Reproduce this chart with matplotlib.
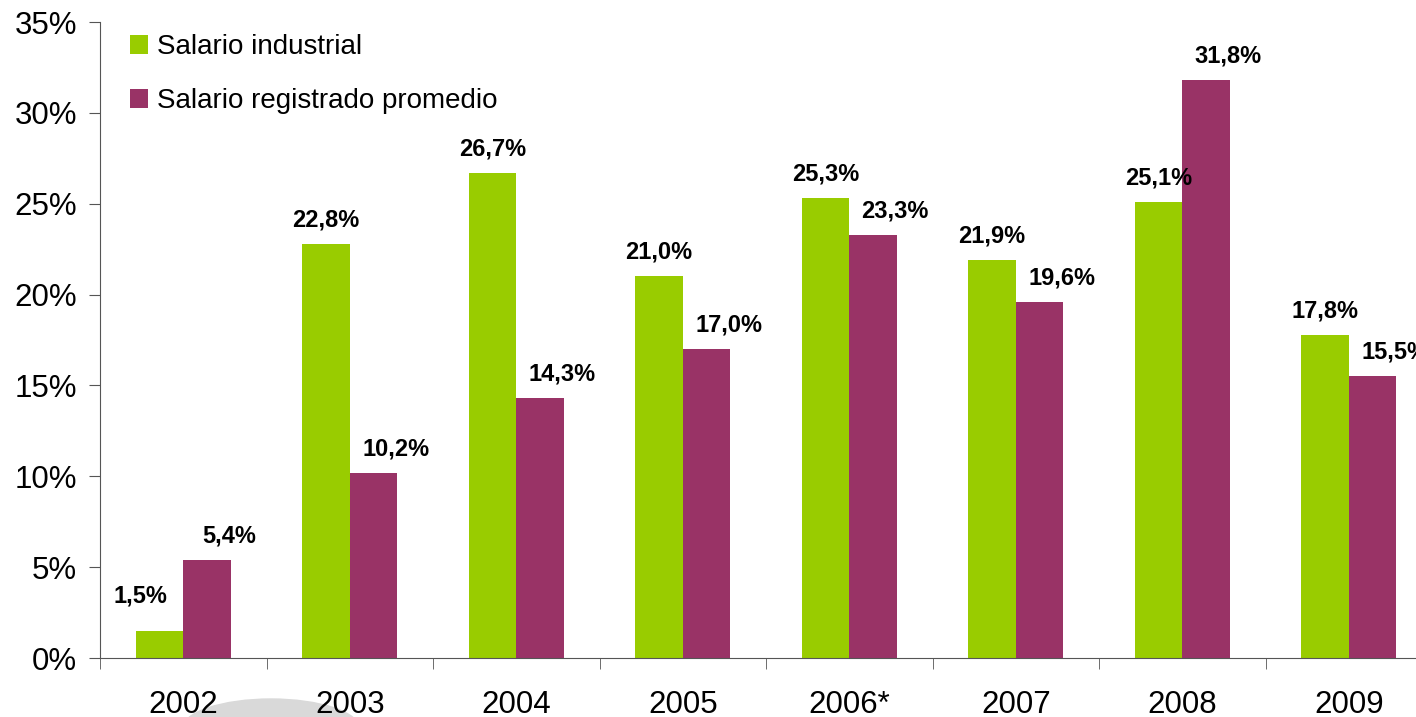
import numpy as np
import matplotlib
matplotlib.use("Agg")
import matplotlib.pyplot as plt
from matplotlib.patches import Ellipse

plt.rcParams['font.family'] = ['Liberation Sans', 'DejaVu Sans']

# Datos
anios = ["2002", "2003", "2004", "2005", "2006*", "2007", "2008", "2009"]
salario_industrial = [1.5, 22.8, 26.7, 21.0, 25.3, 21.9, 25.1, 17.8]
salario_registrado = [5.4, 10.2, 14.3, 17.0, 23.3, 19.6, 31.8, 15.5]

verde = "#99CC00"
morado = "#993366"

fig = plt.figure(figsize=(14.16, 7.17), dpi=100)
ax = fig.add_axes([100 / 1416, 59 / 717, 1332 / 1416, 636 / 717])

x = np.arange(len(anios))
w = 0.285
b1 = ax.bar(x - w / 2, salario_industrial, w, color=verde, label="Salario industrial", zorder=2)
b2 = ax.bar(x + w / 2, salario_registrado, w, color=morado, label="Salario registrado promedio", zorder=2)

def etiqueta(v):
    return f"{v:.1f}%".replace(".", ",")

for i, r in enumerate(b1):
    dx, dy = 0, 9
    if i == 0:
        dx, dy = -14, 17
    ax.annotate(etiqueta(salario_industrial[i]), (r.get_x() + r.get_width() / 2, r.get_height()),
                xytext=(dx, dy), textcoords="offset points", ha="center", va="bottom",
                fontsize=17, fontweight="bold")
for i, r in enumerate(b2):
    ax.annotate(etiqueta(salario_registrado[i]), (r.get_x() + r.get_width() / 2, r.get_height()),
                xytext=(16, 9), textcoords="offset points", ha="center", va="bottom",
                fontsize=17, fontweight="bold")

ax.set_xlim(-0.5, len(anios) - 0.5)
ax.set_ylim(0, 35)
ax.set_yticks(np.arange(0, 36, 5))
ax.set_yticklabels([f"{v}%" for v in range(0, 36, 5)], fontsize=22.5)
ax.set_xticks(x)
ax.set_xticklabels(anios, fontsize=22.5)
ax.set_xticks(np.arange(-0.5, len(anios), 1), minor=True)
ax.tick_params(axis="x", which="major", length=0, pad=23)
ax.tick_params(axis="x", which="minor", length=8, color="#555555", direction="out")
ax.tick_params(axis="y", length=8, color="#555555", pad=8.5)

for s in ["top", "right"]:
    ax.spines[s].set_visible(False)
ax.spines["left"].set_color("#555555")
ax.spines["bottom"].set_color("#555555")

ax.legend(loc="upper left", bbox_to_anchor=(0.004, 1.02), frameon=False, fontsize=20,
          handlelength=0.65, handleheight=0.65, handletextpad=0.3, labelspacing=1.0)

# marca de agua gris al pie
fig.patches.append(Ellipse((271 / 1416, -12 / 717), 178 / 1416, 60 / 717,
                           transform=fig.transFigure, color="#d9d9d9", zorder=-1))

fig.savefig("out.png", dpi=100)
